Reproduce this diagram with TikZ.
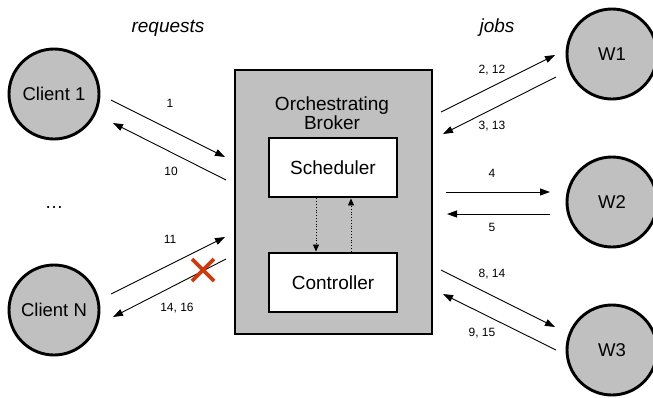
\documentclass[tikz,border=0pt]{standalone}
\usepackage{fontspec}
\setmainfont{Liberation Sans}
\usetikzlibrary{arrows.meta}
\definecolor{fillgray}{HTML}{C0C0C0}
\definecolor{crossred}{HTML}{CC3A10}
\begin{document}
\begin{tikzpicture}[x=1pt,y=-1pt,
  party/.style={circle,draw=black,line width=2.9pt,fill=fillgray,minimum size=90pt,inner sep=0pt,font=\fontsize{18.5}{20}\selectfont},
  brokerbox/.style={draw=black,line width=2.9pt,fill=fillgray},
  innerbox/.style={draw=black,line width=2.9pt,fill=white,font=\fontsize{19}{21}\selectfont},
  msg/.style={line width=0.9pt,-{Triangle[length=10pt,width=7pt]}},
  ctrl/.style={line width=0.8pt,dotted,-{Triangle[length=7pt,width=6pt]}},
  lbl/.style={font=\fontsize{12}{14}\selectfont,inner sep=0pt},
  head/.style={font=\fontsize{19}{21}\selectfont\itshape,inner sep=0pt}]
\useasboundingbox (0,0) rectangle (653,397);

% clients and workers
\node[party] (c1) at (54,94) {Client 1};
\node[party] (cn) at (54,310) {Client N};
\node[party] (w1) at (612,54) {W1};
\node[party] (w2) at (612,202) {W2};
\node[party] (w3) at (612,350) {W3};
\node[inner sep=0pt,font=\fontsize{18.5}{20}\selectfont] (dots) at (54,208) {\dots};

% broker with its two components
\draw[brokerbox] (235,70) rectangle (432,334);
\node[inner sep=0pt,font=\fontsize{19}{21}\selectfont,align=center] (broker) at (332,113) {Orchestrating\\[-2pt]Broker};
\node[innerbox,minimum width=128pt,minimum height=59pt] (sched) at (333,167.5) {Scheduler};
\node[innerbox,minimum width=128pt,minimum height=59pt] (contr) at (333,282.5) {Controller};
\draw[ctrl] (sched.south -| 316,0) -- (contr.north -| 316,0);
\draw[ctrl] (contr.north -| 351,0) -- (sched.south -| 351,0);

% column headings
\node[head] (req) at (168,28) {requests};
\node[head] (jobs) at (497,28) {jobs};

% message end points
\coordinate (a1) at (111,100); \coordinate (a2) at (225,157);
\coordinate (b1) at (226,180); \coordinate (b2) at (113,123);
\coordinate (c1o) at (111,294); \coordinate (c2o) at (225,237);
\coordinate (d1) at (226,259); \coordinate (d2) at (113,317);
\coordinate (e1) at (441,112); \coordinate (e2) at (555,55);
\coordinate (f1) at (556,77); \coordinate (f2) at (443,134);
\coordinate (g1) at (446,192); \coordinate (g2) at (550,192);
\coordinate (h1) at (550,214); \coordinate (h2) at (447,214);
\coordinate (i1) at (441,270); \coordinate (i2) at (555,327);
\coordinate (j1) at (556,350); \coordinate (j2) at (443,294);

\draw[msg] (a1) -- (a2);
\draw[msg] (b1) -- (b2);
\draw[msg] (c1o) -- (c2o);
\draw[msg] (d1) -- (d2);
\draw[msg] (e1) -- (e2);
\draw[msg] (f1) -- (f2);
\draw[msg] (g1) -- (g2);
\draw[msg] (h1) -- (h2);
\draw[msg] (i1) -- (i2);
\draw[msg] (j1) -- (j2);

% message numbers
\node[lbl] (l1) at (170,103) {1};
\node[lbl] (l10) at (171,171) {10};
\node[lbl] (l11) at (170,239) {11};
\node[lbl] (l1416) at (177,308) {14, 16};
\node[lbl] (l212) at (492,70) {2, 12};
\node[lbl] (l313) at (492,126) {3, 13};
\node[lbl] (l4) at (492,173) {4};
\node[lbl] (l5) at (492,227) {5};
\node[lbl] (l814) at (492,274) {8, 14};
\node[lbl] (l915) at (482,333) {9, 15};

% lost reply
\coordinate (x) at (203,270);
\draw[crossred,line width=3.6pt] ([shift={(-11,-11)}]x) -- ([shift={(11,11)}]x)
  ([shift={(-11,11)}]x) -- ([shift={(11,-11)}]x);
\end{tikzpicture}
\end{document}
